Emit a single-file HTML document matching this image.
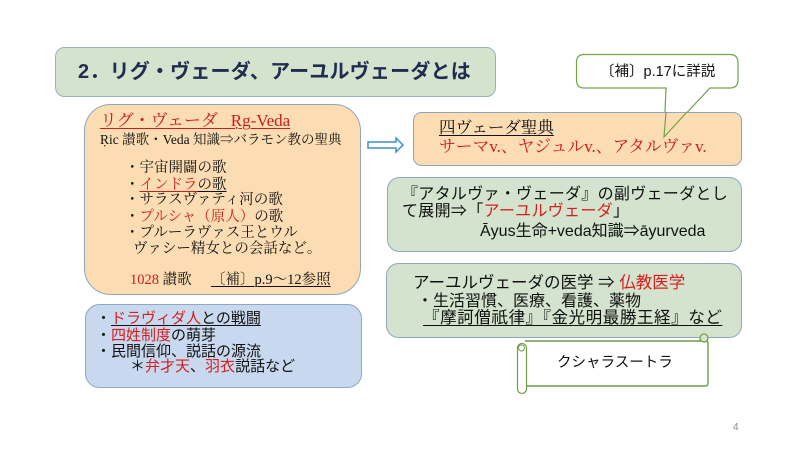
<!DOCTYPE html>
<html><head><meta charset="utf-8">
<style>
html,body{margin:0;padding:0;background:#fff;}
body{width:800px;height:450px;position:relative;overflow:hidden;}
svg{position:absolute;left:0;top:0;}
.t{position:absolute;white-space:nowrap;}
.sf{font-family:"Liberation Serif","Noto Serif CJK SC","DejaVu Serif",serif;color:#111;}
.ss{font-family:"Liberation Sans","Noto Sans CJK JP",sans-serif;color:#111;}
.r{color:#d41f1f;}
.u{text-decoration:underline;text-underline-offset:2px;text-decoration-thickness:1px;}
</style></head><body>
<svg width="800" height="450" viewBox="0 0 800 450">
  <rect x="55.5" y="47.5" width="440" height="49" rx="9" fill="#d3e3cd" stroke="#9ab2b6" stroke-width="1"/>
  <rect x="84.5" y="104.5" width="276" height="190" rx="26" fill="#fcdcb2" stroke="#8ea6c0" stroke-width="1"/>
  <rect x="85.5" y="304.5" width="276" height="83" rx="14" fill="#c8d8ee" stroke="#8ea8c8" stroke-width="1"/>
  <polygon points="368,142 396,142 396,138 403,145 396,152 396,148 368,148" fill="#fff" stroke="#3d8fd2" stroke-width="1.5" stroke-linejoin="miter"/>
  <path d="M584 54.5 H730 Q738 54.5 738 62.5 V80 Q738 88 730 88 H710 L664 137 L666 88 H584 Q576.5 88 576.5 80 V62.5 Q576.5 54.5 584 54.5 Z" fill="#fff" stroke="#72a34a" stroke-width="1.2"/>
  <rect x="413.5" y="112.5" width="328" height="53" rx="8" fill="#fcdcb2" stroke="#8ea6c0" stroke-width="1"/>
  <polyline points="666,112 664,137 687,112" fill="none" stroke="#72a34a" stroke-width="1.2"/>
  <rect x="387.5" y="177.5" width="354" height="74" rx="12" fill="#d3e3cd" stroke="#8ea6c0" stroke-width="1"/>
  <rect x="386.5" y="263.5" width="355" height="74" rx="12" fill="#d3e3cd" stroke="#8ea6c0" stroke-width="1"/>
  <rect x="525" y="341" width="183" height="45" fill="#fff"/>
  <path d="M525 341 H706 Q708 341 708 343 V383 Q708 386 705 386 H526" fill="none" stroke="#6f9c45" stroke-width="1.4"/>
  <circle cx="704" cy="338" r="4" fill="#d3e3cd" stroke="#6f9c45" stroke-width="1.2"/>
  <line x1="700" y1="338" x2="700" y2="341" stroke="#6f9c45" stroke-width="1.2"/>
  <rect x="517.5" y="343.5" width="9" height="50" rx="4.5" fill="#fff" stroke="#6f9c45" stroke-width="1.2"/>
  <circle cx="521.5" cy="348" r="3" fill="#fff" stroke="#6f9c45" stroke-width="1"/>
</svg>

<div class="t ss" style="left:78px;top:60px;line-height:24px;font-size:20px;font-weight:bold;color:#1f2d50;letter-spacing:0.2px;">2．リグ・ヴェーダ、アーユルヴェーダとは</div>

<div class="t sf r u" style="left:100px;top:111px;line-height:20px;font-size:17px;color:#cc1c1c;">リグ・ヴェーダ&nbsp;&nbsp;&nbsp;Ṛg-Veda</div>
<div class="t sf" style="left:100px;top:132px;line-height:16px;font-size:13.5px;">Ṛic 讃歌・Veda 知識⇒バラモン教の聖典</div>
<div class="t sf" style="left:125px;top:159px;line-height:18px;font-size:14.5px;">・宇宙開闢の歌</div>
<div class="t sf" style="left:125px;top:176px;line-height:18px;font-size:14.5px;">・<span class="u" style="color:#cc1c1c;">インドラ</span><span class="u">の歌</span></div>
<div class="t sf" style="left:125px;top:191px;line-height:18px;font-size:14.5px;">・サラスヴァティ河の歌</div>
<div class="t sf" style="left:125px;top:208px;line-height:18px;font-size:14.5px;">・<span style="color:#cc1c1c;">プルシャ（原人）</span>の歌</div>
<div class="t sf" style="left:125px;top:224px;line-height:18px;font-size:14.5px;">・プルーラヴァス王とウル</div>
<div class="t sf" style="left:133px;top:240px;line-height:18px;font-size:14.5px;">ヴァシー精女との会話など。</div>
<div class="t sf" style="left:130px;top:271px;line-height:18px;font-size:14.5px;"><span style="color:#cc1c1c;">1028</span> 讃歌</div>
<div class="t sf u" style="left:211px;top:271px;line-height:18px;font-size:14.5px;">〔補〕p.9～12参照</div>

<div class="t ss" style="left:96px;top:310px;line-height:18px;font-size:15px;">・<span class="u"><span class="r">ドラヴィダ人</span>との戦闘</span></div>
<div class="t ss" style="left:96px;top:327px;line-height:18px;font-size:15px;">・<span class="r">四姓制度</span>の萌芽</div>
<div class="t ss" style="left:96px;top:343px;line-height:18px;font-size:15px;">・民間信仰、説話の源流</div>
<div class="t ss" style="left:130px;top:358px;line-height:18px;font-size:15px;">＊<span class="r">弁才天</span>、<span class="r">羽衣</span>説話など</div>

<div class="t ss" style="left:600px;top:63px;line-height:18px;font-size:14.5px;">〔補〕p.17に詳説</div>

<div class="t sf u" style="left:439px;top:118px;line-height:20px;font-size:16.5px;">四ヴェーダ聖典</div>
<div class="t sf" style="left:439px;top:137px;line-height:20px;font-size:16.8px;color:#cc1c1c;">サーマv.、ヤジュルv.、アタルヴァv.</div>

<div class="t ss" style="left:402px;top:185px;line-height:20px;font-size:16px;letter-spacing:0.3px;">『アタルヴァ・ヴェーダ』の副ヴェーダとし</div>
<div class="t ss" style="left:402px;top:202px;line-height:20px;font-size:16px;letter-spacing:0.3px;">て展開⇒「<span class="r">アーユルヴェーダ</span>」</div>
<div class="t ss" style="left:480px;top:222px;line-height:20px;font-size:16px;">Āyus生命+veda知識⇒āyurveda</div>

<div class="t ss" style="left:413px;top:273px;line-height:20px;font-size:16.5px;">アーユルヴェーダの医学 ⇒ <span class="r">仏教医学</span></div>
<div class="t ss" style="left:417px;top:292px;line-height:20px;font-size:16px;">・生活習慣、医療、看護、薬物</div>
<div class="t ss u" style="left:423px;top:308px;line-height:20px;font-size:16.6px;letter-spacing:0.5px;">『摩訶僧祇律』『金光明最勝王経』など</div>

<div class="t ss" style="left:557px;top:354px;line-height:18px;font-size:14.5px;">クシャラスートラ</div>

<div class="t ss" style="left:733px;top:421px;line-height:14px;font-size:10px;color:#8a8a8a;">4</div>
</body></html>
